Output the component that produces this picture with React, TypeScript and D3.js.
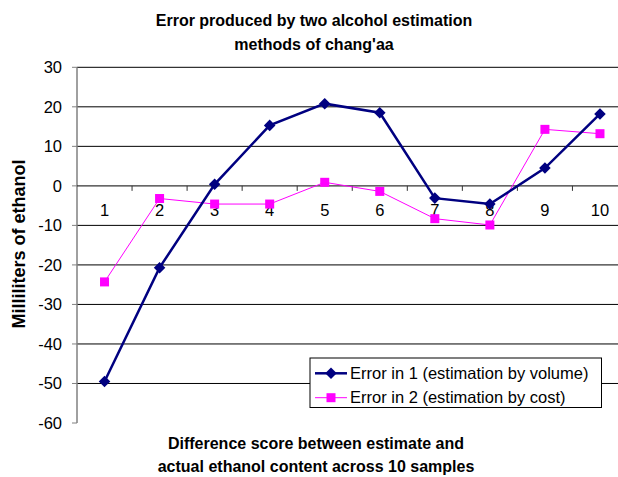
import React, { useEffect, useRef } from 'react';
import * as d3 from 'd3';

const samples = ['1', '2', '3', '4', '5', '6', '7', '8', '9', '10'];
const errorVolume = [-49.5, -20.7, 0.4, 15.3, 20.8, 18.5, -3.1, -4.6, 4.5, 18.2];
const errorCost = [-24.3, -3.2, -4.6, -4.6, 0.9, -1.4, -8.3, -9.9, 14.3, 13.2];
const yTicks = [30, 20, 10, 0, -10, -20, -30, -40, -50, -60];
const seriesNames = ['Error in 1 (estimation by volume)', 'Error in 2 (estimation by cost)'];

const font = '"Liberation Sans", Arial, Helvetica, sans-serif';

const App = () => {
    const ref = useRef<SVGSVGElement>(null);

    useEffect(() => {
        const svg = d3.select(ref.current);
        svg.selectAll('*').remove();

        const left = 77;
        const right = 627.5;
        const top = 67.3;
        const bottom = 423;

        const x = d3.scaleBand().domain(samples).range([left, right]);
        const y = d3.scaleLinear().domain([-60, 30]).range([bottom, top]);

        // gridlines
        svg.append('g')
            .selectAll('line')
            .data(yTicks.filter(t => t !== 0 && t !== -60))
            .enter().append('line')
            .attr('x1', left).attr('x2', right)
            .attr('y1', d => y(d)).attr('y2', d => y(d))
            .attr('stroke', '#000').attr('stroke-width', 1);

        // y axis
        svg.append('line')
            .attr('x1', left).attr('x2', left)
            .attr('y1', top).attr('y2', bottom)
            .attr('stroke', '#808080').attr('stroke-width', 1.5);
        const yAxis = svg.append('g');
        yAxis.selectAll('line')
            .data(yTicks)
            .enter().append('line')
            .attr('x1', left - 5).attr('x2', left)
            .attr('y1', d => y(d)).attr('y2', d => y(d))
            .attr('stroke', '#808080');
        yAxis.selectAll('text')
            .data(yTicks)
            .enter().append('text')
            .attr('x', left - 15)
            .attr('y', d => y(d))
            .attr('dy', '0.35em')
            .attr('text-anchor', 'end')
            .style('font-family', font)
            .style('font-size', '16.5px')
            .text(d => d);

        // x axis at zero
        svg.append('line')
            .attr('x1', left).attr('x2', right)
            .attr('y1', y(0)).attr('y2', y(0))
            .attr('stroke', '#333').attr('stroke-width', 1.2);
        svg.append('g')
            .selectAll('line')
            .data(samples)
            .enter().append('line')
            .attr('x1', d => (x(d) as number) + x.bandwidth())
            .attr('x2', d => (x(d) as number) + x.bandwidth())
            .attr('y1', y(0)).attr('y2', y(0) + 5)
            .attr('stroke', '#333');
        svg.append('g')
            .selectAll('text')
            .data(samples)
            .enter().append('text')
            .attr('x', d => (x(d) as number) + x.bandwidth() / 2)
            .attr('y', y(0) + 30)
            .attr('text-anchor', 'middle')
            .style('font-family', font)
            .style('font-size', '16.5px')
            .text(d => d);

        const cx = (i: number) => (x(samples[i]) as number) + x.bandwidth() / 2;
        const line = d3.line<number>().x((d, i) => cx(i)).y(d => y(d));

        // series 2 (cost)
        svg.append('path')
            .datum(errorCost)
            .attr('d', line)
            .attr('fill', 'none')
            .attr('stroke', '#FF00FF')
            .attr('stroke-width', 1);
        svg.append('g')
            .selectAll('rect')
            .data(errorCost)
            .enter().append('rect')
            .attr('x', (d, i) => cx(i) - 4.5)
            .attr('y', d => y(d) - 4.5)
            .attr('width', 9).attr('height', 9)
            .attr('fill', '#FF00FF');

        // series 1 (volume)
        const diamond = d3.symbol().type(d3.symbolDiamond2).size(85);
        svg.append('path')
            .datum(errorVolume)
            .attr('d', line)
            .attr('fill', 'none')
            .attr('stroke', '#000080')
            .attr('stroke-width', 2.5);
        svg.append('g')
            .selectAll('path')
            .data(errorVolume)
            .enter().append('path')
            .attr('d', diamond)
            .attr('transform', (d, i) => `translate(${cx(i)},${y(d)})`)
            .attr('fill', '#000080');

        // legend
        const lg = svg.append('g').attr('transform', 'translate(310,358)');
        lg.append('rect')
            .attr('width', 291.5).attr('height', 49.5)
            .attr('fill', '#fff').attr('stroke', '#000').attr('stroke-width', 1);
        const rows = lg.selectAll('g.row')
            .data(seriesNames)
            .enter().append('g')
            .attr('transform', (d, i) => `translate(0,${15.3 + i * 24.4})`);
        rows.append('line')
            .attr('x1', 5).attr('x2', 37).attr('y1', 0).attr('y2', 0)
            .attr('stroke', (d, i) => (i === 0 ? '#000080' : '#FF00FF'))
            .attr('stroke-width', (d, i) => (i === 0 ? 2.5 : 1));
        rows.append('path')
            .attr('d', (d, i) => (i === 0 ? diamond() : d3.symbol().type(d3.symbolSquare).size(81)()))
            .attr('transform', 'translate(21,0)')
            .attr('fill', (d, i) => (i === 0 ? '#000080' : '#FF00FF'));
        rows.append('text')
            .attr('x', 40)
            .attr('dy', '0.35em')
            .style('font-family', font)
            .style('font-size', '16.5px')
            .text(d => d);

        // titles
        const title = svg.append('text')
            .attr('text-anchor', 'middle')
            .style('font-family', font)
            .style('font-size', '16px')
            .style('font-weight', 'bold');
        title.append('tspan').attr('x', 314).attr('y', 26).text('Error produced by two alcohol estimation');
        title.append('tspan').attr('x', 314).attr('y', 50).text("methods of chang'aa");

        const xTitle = svg.append('text')
            .attr('text-anchor', 'middle')
            .style('font-family', font)
            .style('font-size', '16px')
            .style('font-weight', 'bold');
        xTitle.append('tspan').attr('x', 316).attr('y', 449).text('Difference score between estimate and');
        xTitle.append('tspan').attr('x', 316).attr('y', 472).text('actual ethanol content across 10 samples');

        svg.append('text')
            .attr('transform', 'translate(25,244) rotate(-90)')
            .attr('text-anchor', 'middle')
            .style('font-family', font)
            .style('font-size', '18px')
            .style('font-weight', 'bold')
            .text('Milliliters of ethanol');
    }, []);

    return (
        <svg ref={ref} width={618} height={477}
            style={{ position: 'absolute', left: 0, top: 0, background: '#fff' }} />
    );
};

export default App;
